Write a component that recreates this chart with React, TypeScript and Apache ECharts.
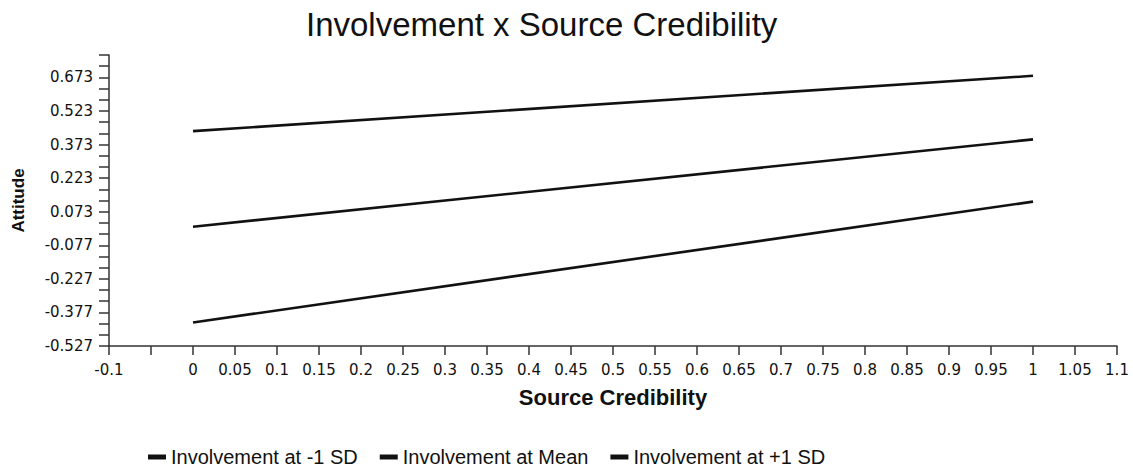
import React, { useEffect, useRef } from "react";
import * as echarts from "echarts";

const titleText = "Involvement x Source Credibility";
const xAxisName = "Source Credibility";
const yAxisName = "Attitude";

const xValues = [0, 1];
const seriesNames = ["Involvement at -1 SD", "Involvement at Mean", "Involvement at +1 SD"];
const lowInvolvement = [-0.422, 0.118];
const meanInvolvement = [0.006, 0.396];
const highInvolvement = [0.433, 0.68];

const yLabelValues = [-0.527, -0.377, -0.227, -0.077, 0.073, 0.223, 0.373, 0.523, 0.673];
const yTickValues = [
  -0.527, -0.477, -0.427, -0.377, -0.327, -0.277, -0.227, -0.177, -0.127, -0.077,
  -0.027, 0.023, 0.073, 0.123, 0.173, 0.223, 0.273, 0.323, 0.373, 0.423, 0.473,
  0.523, 0.573, 0.623, 0.673, 0.723, 0.773,
];
const yMin = -0.527;
const yMax = 0.773;
const xMin = -0.1;
const xMax = 1.1;
const xInterval = 0.05;
const xHiddenLabel = -0.05;

const pairs = (ys: number[]) => xValues.map((x, i) => [x, ys[i]]);

export default function App() {
  const ref = useRef<HTMLDivElement>(null);
  useEffect(() => {
    if (!ref.current) return;
    const chart = echarts.init(ref.current, null, { renderer: "svg" });
    const sans = "'Liberation Sans', Arial, sans-serif";
    const tickFont = "'DejaVu Sans', Verdana, sans-serif";
    const axisColor = "#333";
    const lineStyle = { color: "#111", width: 2.6 };
    chart.setOption({
      animation: false,
      backgroundColor: "#fff",
      title: {
        text: titleText,
        left: 306,
        top: 8,
        padding: 0,
        textStyle: { fontFamily: sans, fontSize: 33, fontWeight: "normal", color: "#111" },
      },
      legend: {
        left: 148,
        top: 447,
        padding: 0,
        icon: "rect",
        itemWidth: 18,
        itemHeight: 5,
        itemGap: 22,
        textStyle: { fontFamily: sans, fontSize: 20, lineHeight: 20, color: "#111" },
        data: seriesNames,
      },
      grid: { left: 109, right: 16, top: 55, bottom: 124 },
      xAxis: {
        type: "value",
        min: xMin,
        max: xMax,
        interval: xInterval,
        name: xAxisName,
        nameLocation: "middle",
        nameGap: 40,
        nameTextStyle: { fontFamily: sans, fontSize: 22, fontWeight: "bold", color: "#111" },
        splitLine: { show: false },
        axisLine: { show: true, onZero: false, lineStyle: { color: axisColor, width: 1.5 } },
        axisTick: { show: true, length: 9, lineStyle: { color: axisColor, width: 1.5 } },
        axisLabel: {
          margin: 16,
          fontFamily: tickFont,
          fontSize: 15,
          color: "#111",
          hideOverlap: false,
          formatter: (v: number) => (Math.abs(v - xHiddenLabel) < 1e-9 ? "" : String(Math.round(v * 100) / 100)),
        },
      },
      yAxis: {
        type: "value",
        min: yMin,
        max: yMax,
        name: yAxisName,
        nameLocation: "middle",
        nameRotate: 90,
        nameGap: 82,
        nameTextStyle: { fontFamily: sans, fontSize: 17, fontWeight: "bold", color: "#111" },
        splitLine: { show: false },
        axisLine: { show: true, onZero: false, lineStyle: { color: axisColor, width: 1.5 } },
        axisTick: {
          show: true,
          length: 10,
          customValues: yTickValues,
          lineStyle: { color: axisColor, width: 1.5 },
        },
        axisLabel: {
          margin: 16,
          fontFamily: tickFont,
          fontSize: 15,
          color: "#111",
          customValues: yLabelValues,
          formatter: (v: number) => String(v),
        },
      },
      series: [
        { name: seriesNames[0], type: "line", data: pairs(lowInvolvement), showSymbol: false, color: "#111", lineStyle },
        { name: seriesNames[1], type: "line", data: pairs(meanInvolvement), showSymbol: false, color: "#111", lineStyle },
        { name: seriesNames[2], type: "line", data: pairs(highInvolvement), showSymbol: false, color: "#111", lineStyle },
      ],
    });
    return () => chart.dispose();
  }, []);
  return (
    <div
      ref={ref}
      style={{ position: "absolute", left: 0, top: 0, width: 1133, height: 470, background: "#fff" }}
    />
  );
}
